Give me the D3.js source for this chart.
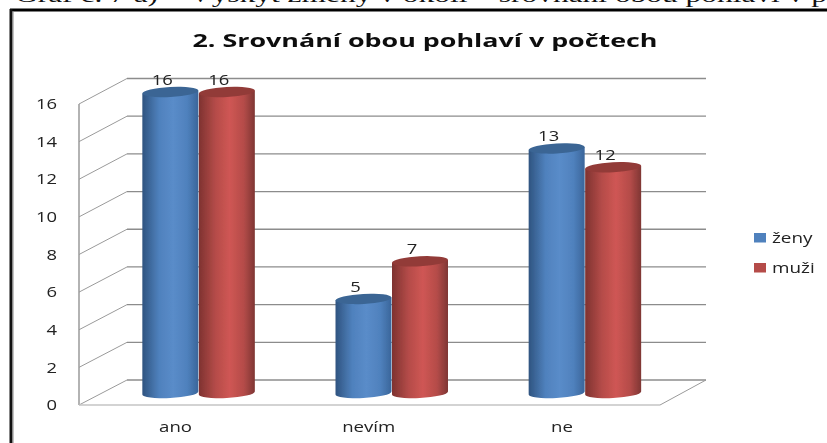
<!DOCTYPE html>
<html><head><meta charset="utf-8">
<script src="https://cdn.jsdelivr.net/npm/d3@7"></script>
<style>html,body{margin:0;padding:0;background:#fff;overflow:hidden}svg{display:block}</style>
</head><body><div id="c"></div>
<script>
const pageHeading = "Graf č. 7 a) – Výskyt změny v okolí – srovnání obou pohlaví v p";
const chartTitle = "2. Srovnání obou pohlaví v počtech";
const categories = ["ano", "nevím", "ne"];
const seriesNames = ["ženy", "muži"];
const zeny = [16, 5, 13];
const muzi = [16, 7, 12];
const yTicks = [0, 2, 4, 6, 8, 10, 12, 14, 16];
const seriesColors = [["#2f5480","#4f81bd","#5a8cc9","#3a659a"],["#7e3230","#b54c49","#cf5654","#7f3634"]];
const capColors = ["#3a6594","#923a38"];

const W = 827, H = 443;
const svg = d3.select("#c").append("svg").attr("width", W).attr("height", H)
  .attr("font-family", "'Open Sans', sans-serif");
const defs = svg.append("defs");
defs.append("filter").attr("id","soft").append("feGaussianBlur").attr("stdDeviation",0.45);
seriesColors.forEach((c,i)=>{
  const g = defs.append("linearGradient").attr("id","g"+i);
  [[0,c[0]],[0.3,c[1]],[0.55,c[2]],[0.8,c[1]],[1,c[3]]].forEach(s=>g.append("stop").attr("offset",s[0]).attr("stop-color",s[1]));
});
// widen glyphs: the reference's text is horizontally stretched
function stretch(sel, k){
  sel.each(function(){
    this.setAttribute("textLength", this.getComputedTextLength()*k);
    this.setAttribute("lengthAdjust","spacingAndGlyphs");
  });
}

// three depth planes of the pseudo-3D plot
const yFront = d3.scaleLinear().domain([0,16]).range([405,104]);
const yBack  = d3.scaleLinear().domain([0,16]).range([380,78.5]);
const yMid   = d3.scaleLinear().domain([0,16]).range([393,92]);
const xFront = [79,660], xBack = [127,706];
const xCat = d3.scaleBand().domain(categories).range([101.5,681]);
const xSer = d3.scaleBand().domain(seriesNames).range([-56,57]);
const catCenter = c => xCat(c) + xCat.bandwidth()/2;
const serCenter = s => xSer(s) + xSer.bandwidth()/2;

// page heading (cropped by the top edge) and frame
svg.append("text").attr("x",15).attr("y",2).attr("font-family","'Liberation Serif',serif")
  .attr("font-size",21).attr("textLength",812).attr("lengthAdjust","spacingAndGlyphs").attr("fill","#111").text(pageHeading);
svg.append("line").attr("x1",10).attr("x2",W).attr("y1",10).attr("y2",10).attr("stroke","#000").attr("stroke-width",3);
svg.append("line").attr("x1",11).attr("x2",11).attr("y1",9).attr("y2",H).attr("stroke","#111").attr("stroke-width",3);
svg.append("line").attr("x1",13).attr("x2",13).attr("y1",11).attr("y2",H).attr("stroke","#888").attr("stroke-width",1);

const plot = svg.append("g").attr("filter","url(#soft)");
plot.append("text").attr("x",425).attr("y",47).attr("text-anchor","middle")
  .attr("font-size",17.5).attr("font-weight",700).attr("fill","#111")
  .attr("textLength",465).attr("lengthAdjust","spacingAndGlyphs").text(chartTitle);

// walls
const wall = plot.append("g").attr("fill","none").attr("stroke","#9a9a9a");
wall.selectAll(".grid").data(yTicks).join("line").attr("class","grid")
  .attr("x1",xBack[0]).attr("x2",xBack[1]).attr("y1",d=>yBack(d)).attr("y2",d=>yBack(d)).attr("stroke","#8c8c8c").attr("stroke-width",1.3);
wall.selectAll(".side").data(yTicks).join("line").attr("class","side")
  .attr("x1",xFront[0]).attr("x2",xBack[0]).attr("y1",d=>yFront(d)).attr("y2",d=>yBack(d));
wall.append("line").attr("x1",xFront[0]).attr("x2",xFront[0]).attr("y1",yFront(16)).attr("y2",yFront(0)).attr("stroke-width",1.5);
wall.append("line").attr("x1",xFront[0]).attr("x2",xFront[1]).attr("y1",yFront(0)).attr("y2",yFront(0)).attr("stroke","#c4c4c4").attr("stroke-width",1.5);
wall.append("line").attr("x1",xFront[1]).attr("x2",xBack[1]).attr("y1",yFront(0)).attr("y2",yBack(0));

// y axis
const axisG = plot.append("g").attr("transform","translate(57,0)")
  .call(d3.axisLeft(yFront).tickValues(yTicks).tickSize(0).tickPadding(0));
axisG.select(".domain").remove();
axisG.selectAll("text").attr("font-size",14.5).attr("font-family","'Open Sans',sans-serif").attr("fill","#222").call(stretch,1.27);

// category labels
plot.selectAll(".cat").data(categories).join("text").attr("class","cat")
  .attr("x",d=>catCenter(d)-22.5).attr("y",432).attr("text-anchor","middle")
  .attr("font-size",14).attr("fill","#222").text(d=>d).call(stretch,1.33);

// bars as cylinders
const rx = 28, ry = 5, tilt = -3;
function cylinder(sel, cx, v, s){
  const top = yMid(v), base = yMid(0);
  const g = sel.append("g");
  g.append("path").attr("d",
    `M${cx-rx},${top+1.4} L${cx-rx},${base+1.4} A${rx},${ry} ${tilt} 0 0 ${cx+rx},${base-1.4} L${cx+rx},${top-1.4} Z`)
    .attr("fill",`url(#g${s})`);
  g.append("ellipse").attr("cx",cx).attr("cy",top).attr("rx",rx).attr("ry",ry)
    .attr("transform",`rotate(${tilt} ${cx} ${top})`).attr("fill",capColors[s]);
}
const bars = plot.append("g");
[muzi, zeny].forEach((vals,k)=>{
  const s = 1-k;
  vals.forEach((v,i)=> cylinder(bars, catCenter(categories[i]) + serCenter(seriesNames[s]), v, s));
});

// value labels
[zeny, muzi].forEach((vals,s)=>{
  plot.selectAll(".v"+s).data(vals).join("text").attr("class","v"+s)
    .attr("x",(d,i)=>catCenter(categories[i])+serCenter(seriesNames[s])-8)
    .attr("y",d=>yMid(d)-7).attr("text-anchor","middle")
    .attr("font-size",14.5).attr("fill","#222").text(d=>d).call(stretch,1.27);
});

// legend
const leg = plot.append("g").selectAll("g").data(seriesNames).join("g")
  .attr("transform",(d,i)=>`translate(754,${233+i*30})`);
leg.append("rect").attr("width",12).attr("height",9.5).attr("fill",(d,i)=>seriesColors[i][1]);
leg.append("text").attr("x",18).attr("y",9.5).attr("font-size",14).attr("fill","#222").text(d=>d).call(stretch,1.35);
</script></body></html>
